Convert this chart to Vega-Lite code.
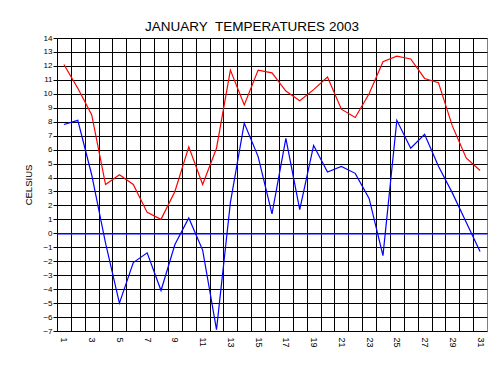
{
  "$schema": "https://vega.github.io/schema/vega-lite/v6.json",
  "width": 430,
  "height": 293,
  "autosize": "none",
  "padding": {"left": 57, "top": 38, "right": 17, "bottom": 40},
  "background": "white",
  "config": {"view": {"stroke": "#808080", "strokeWidth": 1}},
  "title": {"text": "JANUARY\u00a0 TEMPERATURES 2003", "font": "Liberation Sans", "fontSize": 13.5, "fontWeight": "normal", "color": "black", "anchor": "middle", "dx": -20, "offset": 1},
  "data": {"values": [
    {"day": 1, "series": "max", "temp": 12.1}, {"day": 2, "series": "max", "temp": 10.4}, {"day": 3, "series": "max", "temp": 8.5},
    {"day": 4, "series": "max", "temp": 3.5}, {"day": 5, "series": "max", "temp": 4.2}, {"day": 6, "series": "max", "temp": 3.5},
    {"day": 7, "series": "max", "temp": 1.5}, {"day": 8, "series": "max", "temp": 1.0}, {"day": 9, "series": "max", "temp": 3.0},
    {"day": 10, "series": "max", "temp": 6.2}, {"day": 11, "series": "max", "temp": 3.5}, {"day": 12, "series": "max", "temp": 6.1},
    {"day": 13, "series": "max", "temp": 11.7}, {"day": 14, "series": "max", "temp": 9.2}, {"day": 15, "series": "max", "temp": 11.7},
    {"day": 16, "series": "max", "temp": 11.5}, {"day": 17, "series": "max", "temp": 10.2}, {"day": 18, "series": "max", "temp": 9.5},
    {"day": 19, "series": "max", "temp": 10.3}, {"day": 20, "series": "max", "temp": 11.2}, {"day": 21, "series": "max", "temp": 8.9},
    {"day": 22, "series": "max", "temp": 8.3}, {"day": 23, "series": "max", "temp": 10.0}, {"day": 24, "series": "max", "temp": 12.3},
    {"day": 25, "series": "max", "temp": 12.7}, {"day": 26, "series": "max", "temp": 12.5}, {"day": 27, "series": "max", "temp": 11.1},
    {"day": 28, "series": "max", "temp": 10.8}, {"day": 29, "series": "max", "temp": 7.7}, {"day": 30, "series": "max", "temp": 5.4},
    {"day": 31, "series": "max", "temp": 4.5},
    {"day": 1, "series": "min", "temp": 7.8}, {"day": 2, "series": "min", "temp": 8.1}, {"day": 3, "series": "min", "temp": 4.2},
    {"day": 4, "series": "min", "temp": -0.7}, {"day": 5, "series": "min", "temp": -5.0}, {"day": 6, "series": "min", "temp": -2.1},
    {"day": 7, "series": "min", "temp": -1.4}, {"day": 8, "series": "min", "temp": -4.1}, {"day": 9, "series": "min", "temp": -0.8},
    {"day": 10, "series": "min", "temp": 1.1}, {"day": 11, "series": "min", "temp": -1.2}, {"day": 12, "series": "min", "temp": -6.9},
    {"day": 13, "series": "min", "temp": 2.2}, {"day": 14, "series": "min", "temp": 7.9}, {"day": 15, "series": "min", "temp": 5.5},
    {"day": 16, "series": "min", "temp": 1.4}, {"day": 17, "series": "min", "temp": 6.8}, {"day": 18, "series": "min", "temp": 1.7},
    {"day": 19, "series": "min", "temp": 6.3}, {"day": 20, "series": "min", "temp": 4.4}, {"day": 21, "series": "min", "temp": 4.8},
    {"day": 22, "series": "min", "temp": 4.3}, {"day": 23, "series": "min", "temp": 2.5}, {"day": 24, "series": "min", "temp": -1.6},
    {"day": 25, "series": "min", "temp": 8.1}, {"day": 26, "series": "min", "temp": 6.1}, {"day": 27, "series": "min", "temp": 7.1},
    {"day": 28, "series": "min", "temp": 4.8}, {"day": 29, "series": "min", "temp": 2.9}, {"day": 30, "series": "min", "temp": 0.8},
    {"day": 31, "series": "min", "temp": -1.3}
  ]},
  "resolve": {"axis": {"x": "independent"}},
  "layer": [
    {
      "mark": {"type": "line", "strokeWidth": 1.2},
      "encoding": {
        "x": {"field": "day", "type": "quantitative", "scale": {"domain": [0.5, 31.5], "nice": false, "zero": false},
          "axis": {"orient": "bottom", "values": [1.5,2.5,3.5,4.5,5.5,6.5,7.5,8.5,9.5,10.5,11.5,12.5,13.5,14.5,15.5,16.5,17.5,18.5,19.5,20.5,21.5,22.5,23.5,24.5,25.5,26.5,27.5,28.5,29.5,30.5],
            "grid": true, "gridColor": "black", "gridOpacity": 1, "gridWidth": 1, "labels": false, "ticks": false, "domain": false, "title": null}},
        "y": {"field": "temp", "type": "quantitative", "scale": {"domain": [-7, 14], "nice": false, "zero": false},
          "axis": {"values": [-7,-6,-5,-4,-3,-2,-1,0,1,2,3,4,5,6,7,8,9,10,11,12,13,14],
            "grid": true, "gridColor": "black", "gridOpacity": 1, "gridWidth": 1,
            "domainColor": "black", "domainWidth": 1, "tickColor": "black", "tickSize": 4,
            "labelFont": "Liberation Sans", "labelFontSize": 8, "labelColor": "black", "labelPadding": 1,
            "title": "CELSIUS", "titleFont": "Liberation Sans", "titleFontSize": 9.5, "titleFontWeight": "normal", "titleColor": "black", "titlePadding": 9}},
        "color": {"field": "series", "type": "nominal", "scale": {"domain": ["max", "min"], "range": ["#ff0000", "#0000ff"]}, "legend": null}
      }
    },
    {
      "mark": {"type": "rule", "opacity": 0},
      "encoding": {
        "x": {"field": "day", "type": "quantitative", "scale": {"domain": [0.5, 31.5], "nice": false, "zero": false},
          "axis": {"orient": "bottom", "values": [1,3,5,7,9,11,13,15,17,19,21,23,25,27,29,31], "grid": false, "ticks": false, "domain": false,
            "labelAngle": 90, "labelFont": "Liberation Sans", "labelFontSize": 9, "labelColor": "black", "labelPadding": 6, "title": null}}
      }
    },
    {
      "mark": {"type": "rule", "opacity": 0},
      "encoding": {
        "x": {"field": "day", "type": "quantitative", "scale": {"domain": [0.5, 31.5], "nice": false, "zero": false},
          "axis": {"orient": "bottom", "values": [1.5,2.5,3.5,4.5,5.5,6.5,7.5,8.5,9.5,10.5,11.5,12.5,13.5,14.5,15.5,16.5,17.5,18.5,19.5,20.5,21.5,22.5,23.5,24.5,25.5,26.5,27.5,28.5,29.5,30.5],
            "offset": -97.67, "grid": false, "labels": false, "ticks": true, "tickColor": "#0000ff", "tickSize": 2, "tickWidth": 1,
            "domain": true, "domainColor": "#0000ff", "domainWidth": 1.5, "title": null, "zindex": 1}}
      }
    }
  ]
}
